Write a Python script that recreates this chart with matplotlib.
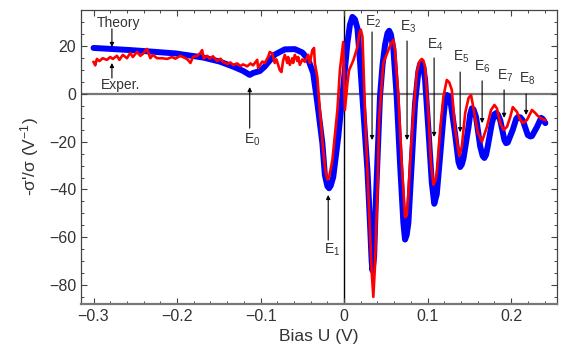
#!/usr/bin/env python3
"""-sigma'/sigma vs bias: theory vs experiment"""

import matplotlib
matplotlib.use("Agg")
import matplotlib.pyplot as plt

plt.rcParams["font.family"] = ["Liberation Sans", "DejaVu Sans"]
plt.rcParams["mathtext.default"] = "regular"

# 理论曲线 (蓝)
theory_u = [-0.300, -0.280, -0.256, -0.232, -0.202, -0.169, -0.149, -0.133,
            -0.121, -0.113, -0.109, -0.101, -0.095, -0.083, -0.071, -0.059,
            -0.050, -0.043, -0.037, -0.032, -0.026, -0.023, -0.020, -0.018,
            -0.016, -0.013, -0.007, -0.001, 0.004, 0.007, 0.010, 0.013,
            0.016, 0.019, 0.023, 0.028, 0.031, 0.033, 0.034, 0.036,
            0.038, 0.043, 0.046, 0.049, 0.052, 0.054, 0.056, 0.059,
            0.063, 0.067, 0.071, 0.073, 0.075, 0.077, 0.081, 0.085,
            0.089, 0.091, 0.093, 0.095, 0.097, 0.101, 0.105, 0.108,
            0.111, 0.115, 0.119, 0.121, 0.123, 0.125, 0.128, 0.133,
            0.137, 0.139, 0.141, 0.143, 0.149, 0.151, 0.153, 0.155,
            0.158, 0.163, 0.166, 0.168, 0.170, 0.172, 0.177, 0.180,
            0.182, 0.184, 0.187, 0.192, 0.194, 0.196, 0.202, 0.206,
            0.208, 0.211, 0.214, 0.220, 0.223, 0.225, 0.231, 0.236,
            0.238, 0.241]
theory_s = [19.3, 18.9, 18.4, 17.8, 17.0, 15.3, 13.6, 11.5,
            9.7, 8.0, 8.8, 9.6, 11.5, 16.5, 18.7, 18.8,
            17.4, 14.5, 8.8, -3.8, -20.6, -34.0, -38.6, -39.5,
            -38.4, -34.8, -18.0, 3.0, 21.4, 29.0, 32.3, 31.3,
            27.5, 14.0, -6.7, -32.0, -54.0, -70.0, -74.0, -68.0,
            -45.0, -1.0, 12.0, 20.5, 25.5, 26.5, 25.0, 19.0,
            -1.0, -29.0, -54.0, -61.0, -59.0, -54.0, -29.0, -3.8,
            9.5, 12.5, 13.0, 11.0, 5.9, -15.0, -37.0, -46.0,
            -42.0, -26.0, -9.6, -3.0, -0.4, -0.8, -4.5, -17.0,
            -28.5, -30.6, -29.5, -27.0, -13.8, -8.5, -6.0, -6.5,
            -9.6, -22.0, -26.0, -26.8, -25.5, -22.0, -12.2, -8.5,
            -8.0, -8.5, -11.0, -19.3, -20.6, -20.3, -15.0, -10.5,
            -9.6, -9.8, -11.0, -17.2, -17.8, -17.6, -13.8, -10.0,
            -10.5, -12.2]

# 实验曲线 (红)
exper_u = [-0.300, -0.298, -0.296, -0.293, -0.289, -0.284, -0.280, -0.277,
           -0.272, -0.269, -0.265, -0.260, -0.256, -0.253, -0.248, -0.244,
           -0.241, -0.236, -0.232, -0.229, -0.224, -0.218, -0.212, -0.206,
           -0.202, -0.196, -0.190, -0.187, -0.184, -0.181, -0.176, -0.172,
           -0.170, -0.168, -0.164, -0.161, -0.157, -0.152, -0.148, -0.145,
           -0.140, -0.136, -0.133, -0.128, -0.124, -0.121, -0.116, -0.112,
           -0.109, -0.104, -0.103, -0.101, -0.098, -0.095, -0.091, -0.089,
           -0.086, -0.083, -0.081, -0.077, -0.075, -0.073, -0.071, -0.068,
           -0.067, -0.065, -0.062, -0.061, -0.059, -0.056, -0.055, -0.053,
           -0.050, -0.047, -0.043, -0.041, -0.038, -0.036, -0.035, -0.032,
           -0.029, -0.025, -0.022, -0.020, -0.018, -0.014, -0.008, -0.005,
           -0.001, 0.001, 0.004, 0.006, 0.011, 0.016, 0.018, 0.020,
           0.022, 0.025, 0.029, 0.033, 0.035, 0.037, 0.040, 0.042,
           0.047, 0.053, 0.056, 0.059, 0.061, 0.065, 0.069, 0.073,
           0.075, 0.077, 0.079, 0.083, 0.087, 0.090, 0.093, 0.095,
           0.097, 0.101, 0.104, 0.107, 0.109, 0.111, 0.115, 0.119,
           0.123, 0.126, 0.129, 0.133, 0.138, 0.141, 0.145, 0.149,
           0.152, 0.156, 0.160, 0.165, 0.171, 0.176, 0.180, 0.183,
           0.187, 0.191, 0.195, 0.199, 0.202, 0.207, 0.211, 0.214,
           0.219, 0.225, 0.229, 0.232, 0.237, 0.241]
exper_s = [13.4, 12.0, 14.7, 13.8, 15.0, 14.3, 15.5, 14.7,
           16.0, 14.3, 16.4, 15.0, 17.2, 15.5, 17.6, 16.0,
           16.8, 18.9, 15.0, 16.4, 15.0, 15.0, 14.7, 15.5,
           14.8, 16.0, 15.0, 14.3, 13.0, 15.5, 16.0, 17.2,
           18.4, 15.0, 16.0, 14.8, 15.8, 13.8, 14.8, 13.5,
           12.6, 13.2, 12.2, 12.8, 11.7, 12.4, 11.6, 12.8,
           12.0, 14.3, 10.9, 12.0, 13.6, 13.0, 15.5, 17.6,
           17.0, 13.0, 14.5, 10.0, 9.2, 14.0, 16.4, 13.0,
           15.5, 12.2, 15.0, 13.0, 16.4, 13.8, 15.5, 12.2,
           14.5, 13.5, 16.4, 13.0, 18.4, 19.3, 13.0, 7.0,
           -6.7, -23.5, -33.0, -35.8, -35.0, -27.7, -6.7, 10.0,
           21.8, -6.7, 4.6, 10.0, 14.0, 19.7, 25.0, 27.0,
           24.0, -6.7, -41.5, -74.0, -85.0, -72.0, -40.0, -10.0,
           13.0, 18.4, 21.0, 22.6, 18.4, -1.0, -29.0, -51.6,
           -51.0, -42.0, -29.0, -8.0, 8.8, 13.5, 14.7, 14.0,
           11.3, -8.0, -29.0, -38.0, -36.5, -33.0, -15.0, -1.0,
           5.9, 4.8, 1.7, -15.0, -26.0, -22.0, -8.0, -1.7,
           -0.4, -8.0, -16.0, -20.0, -13.8, -6.7, -4.6, -6.0,
           -12.2, -15.0, -13.8, -9.6, -5.5, -7.5, -10.9, -12.2,
           -10.9, -6.7, -8.0, -9.2, -10.5, -10.9]

# 能级标注: 文字位置, 箭头尾, 箭头头
level_names = ["E$_0$", "E$_1$", "E$_2$", "E$_3$", "E$_4$",
               "E$_5$", "E$_6$", "E$_7$", "E$_8$"]
level_text_u = [-0.110, -0.014, 0.035, 0.077, 0.109, 0.140, 0.166, 0.193, 0.219]
level_text_s = [-19.3, -65.4, 30.2, 28.0, 20.5, 15.5, 11.3, 7.5, 6.3]
level_arrow_u = [-0.113, -0.019, 0.0335, 0.0754, 0.1078, 0.139, 0.1653, 0.1916, 0.218]
level_tail_s = [-14.3, -61.2, 26.0, 22.2, 15.1, 9.2, 5.5, 1.7, 0.0]
level_tip_s = [2.9, -42.3, -19.3, -19.3, -18.0, -16.0, -12.2, -10.0, -8.8]

text_col = "#333333"

fig = plt.figure(figsize=(5.65, 3.62), dpi=100)
ax = fig.add_axes([0.1434, 0.1602, 0.8425, 0.8122])

ax.axhline(0, color="#777777", lw=1.6, zorder=1)
ax.axvline(0, color="black", lw=1.0, zorder=1)

ax.plot(theory_u, theory_s, color="#0000ff", lw=4.3,
        solid_joinstyle="round", solid_capstyle="round", zorder=2)
ax.plot(exper_u, exper_s, color="#ff0000", lw=1.9,
        solid_joinstyle="round", zorder=3)

arrow_kw = dict(arrowstyle="-|>", color="black", lw=0.8,
                mutation_scale=6, shrinkA=0, shrinkB=0)

for name, tu, ts, au, s0, s1 in zip(level_names, level_text_u, level_text_s,
                                    level_arrow_u, level_tail_s, level_tip_s):
    ax.text(tu, ts, name, ha="center", va="center", fontsize=10,
            color=text_col, zorder=5)
    ax.annotate("", xy=(au, s1), xytext=(au, s0), arrowprops=arrow_kw, zorder=5)

# Theory / Exper. 标注
ax.text(-0.270, 29.8, "Theory", ha="center", va="center", fontsize=10,
        color=text_col)
ax.annotate("", xy=(-0.278, 19.7), xytext=(-0.278, 27.3), arrowprops=arrow_kw)
ax.text(-0.268, 3.8, "Exper.", ha="center", va="center", fontsize=10,
        color=text_col)
ax.annotate("", xy=(-0.278, 13.0), xytext=(-0.278, 6.7), arrowprops=arrow_kw)

ax.set_xlim(-0.315, 0.255)
ax.set_ylim(-88, 35.2)
ax.set_xticks([-0.3, -0.2, -0.1, 0, 0.1, 0.2])
ax.set_xticklabels(["\u22120.3", "\u22120.2", "\u22120.1", "0", "0.1", "0.2"])
ax.set_yticks([-80, -60, -40, -20, 0, 20])
ax.set_yticklabels(["\u221280", "\u221260", "\u221240", "\u221220", "0", "20"])
ax.xaxis.set_minor_locator(matplotlib.ticker.MultipleLocator(0.02))
ax.yaxis.set_minor_locator(matplotlib.ticker.MultipleLocator(5))
ax.tick_params(which="both", direction="in", top=True, right=True,
               colors="#444444", labelcolor=text_col, labelsize=11.5)
ax.tick_params(which="major", length=4, width=0.8)
ax.tick_params(which="minor", length=2.2, width=0.7)

for side in ["top", "right", "left"]:
    ax.spines[side].set_color("#444444")
    ax.spines[side].set_linewidth(0.9)
ax.spines["bottom"].set_color("#777777")
ax.spines["bottom"].set_linewidth(1.6)

ax.set_xlabel("Bias U (V)", fontsize=12.5, color=text_col, labelpad=4)
ax.set_ylabel("-\u03c3'/\u03c3 (V$^{-1}$)", fontsize=12.5, color=text_col,
              labelpad=6)

fig.savefig("out.png", dpi=100)
plt.close(fig)
